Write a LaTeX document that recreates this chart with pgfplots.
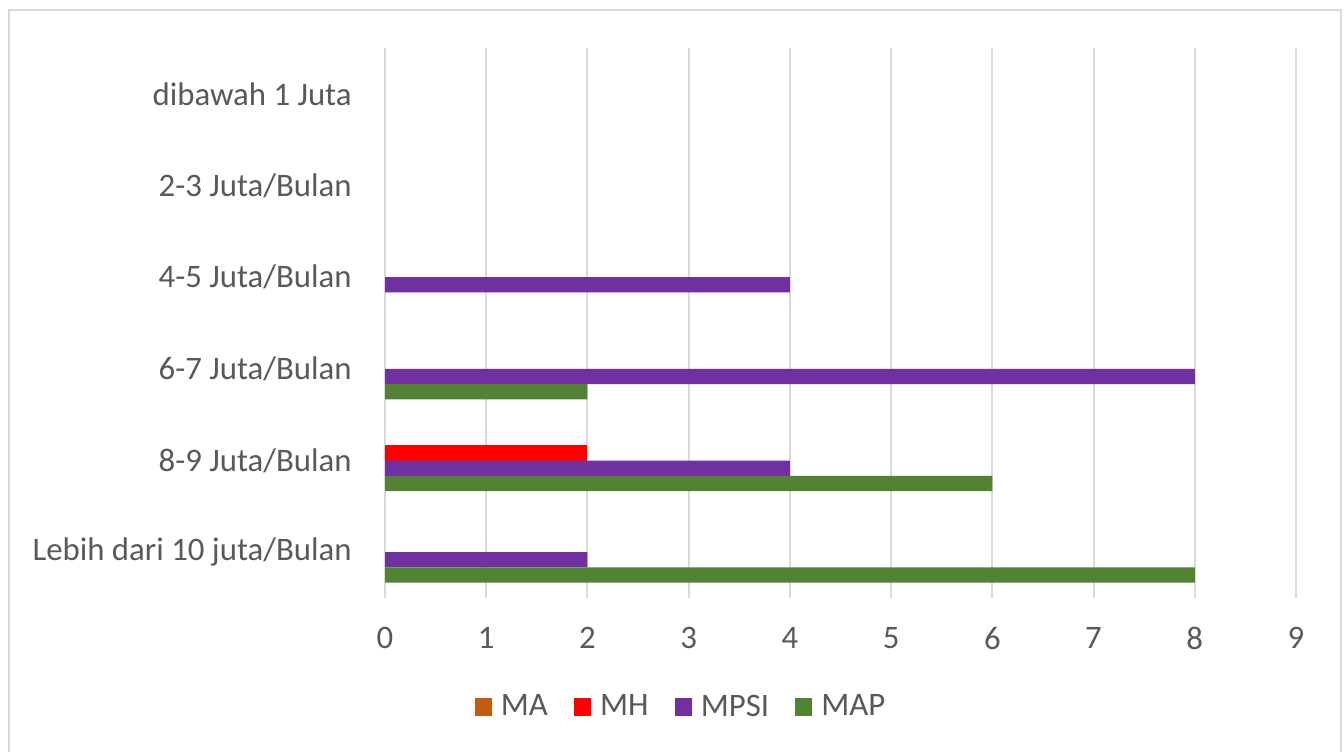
\documentclass[border=0pt]{standalone}
\usepackage{pgfplots}
\pgfplotsset{compat=1.18}
\usepackage{fontspec}
\setmainfont{Carlito}
\definecolor{maC}{HTML}{C55A11}
\definecolor{mhC}{HTML}{FF0000}
\definecolor{mpsiC}{HTML}{7030A0}
\definecolor{mapC}{HTML}{548235}
\definecolor{gridC}{HTML}{D9D9D9}
\definecolor{textC}{HTML}{595959}
\begin{document}
\begin{tikzpicture}[x=1pt,y=1pt]
\clip (0,0) rectangle (672,375.5);
\fill[white] (0,0) rectangle (672,375.5);
\draw[color=gridC, line width=1.3pt] (4.5,-5) rectangle (670.5,370.5);
\begin{axis}[
  at={(192.5pt,76.5pt)}, anchor=south west,
  scale only axis, width=455.5pt, height=275pt,
  xbar, xmin=0, xmax=9, ymin=-0.5, ymax=5.5,
  xtick={0,1,2,3,4,5,6,7,8,9},
  ytick={0,1,2,3,4,5},
  yticklabels={Lebih dari 10 juta/Bulan, 8-9 Juta/Bulan, 6-7 Juta/Bulan, 4-5 Juta/Bulan, 2-3 Juta/Bulan, dibawah 1 Juta},
  xmajorgrids, ymajorgrids=false,
  major grid style={draw=gridC, line width=1pt},
  axis line style={draw=none},
  major tick length=0pt,
  tick label style={font=\fontsize{16.4}{19}\selectfont, text=textC},
  /pgf/number format/assume math mode=true,
  xticklabel style={inner sep=0pt, anchor=north, yshift=-14.5pt},
  yticklabel style={inner sep=0pt, anchor=east, xshift=-16.5pt},
  bar width=0.1667,
  legend columns=4,
  legend style={at={(0.326,-0.198)}, anchor=center, draw=none, fill=none,
    font=\fontsize{16.4}{19}\selectfont, text=textC,
    /tikz/every odd column/.append style={column sep=2.5pt},
    /tikz/every even column/.append style={column sep=11pt}},
  legend image code/.code={\fill[#1] (0pt,-4.3pt) rectangle (8.6pt,4.3pt);},
]
\addlegendimage{fill=maC, draw=none}
\addlegendentry{MA}
\addplot[fill=mhC, draw=none, bar shift=0.0833] coordinates {(2,1)};
\addlegendentry{MH}
\addplot[fill=mpsiC, draw=none, bar shift=-0.0833] coordinates {(2,0) (4,1) (8,2) (4,3)};
\addlegendentry{MPSI}
\addplot[fill=mapC, draw=none, bar shift=-0.25] coordinates {(8,0) (6,1) (2,2)};
\addlegendentry{MAP}
\end{axis}
\end{tikzpicture}
\end{document}
